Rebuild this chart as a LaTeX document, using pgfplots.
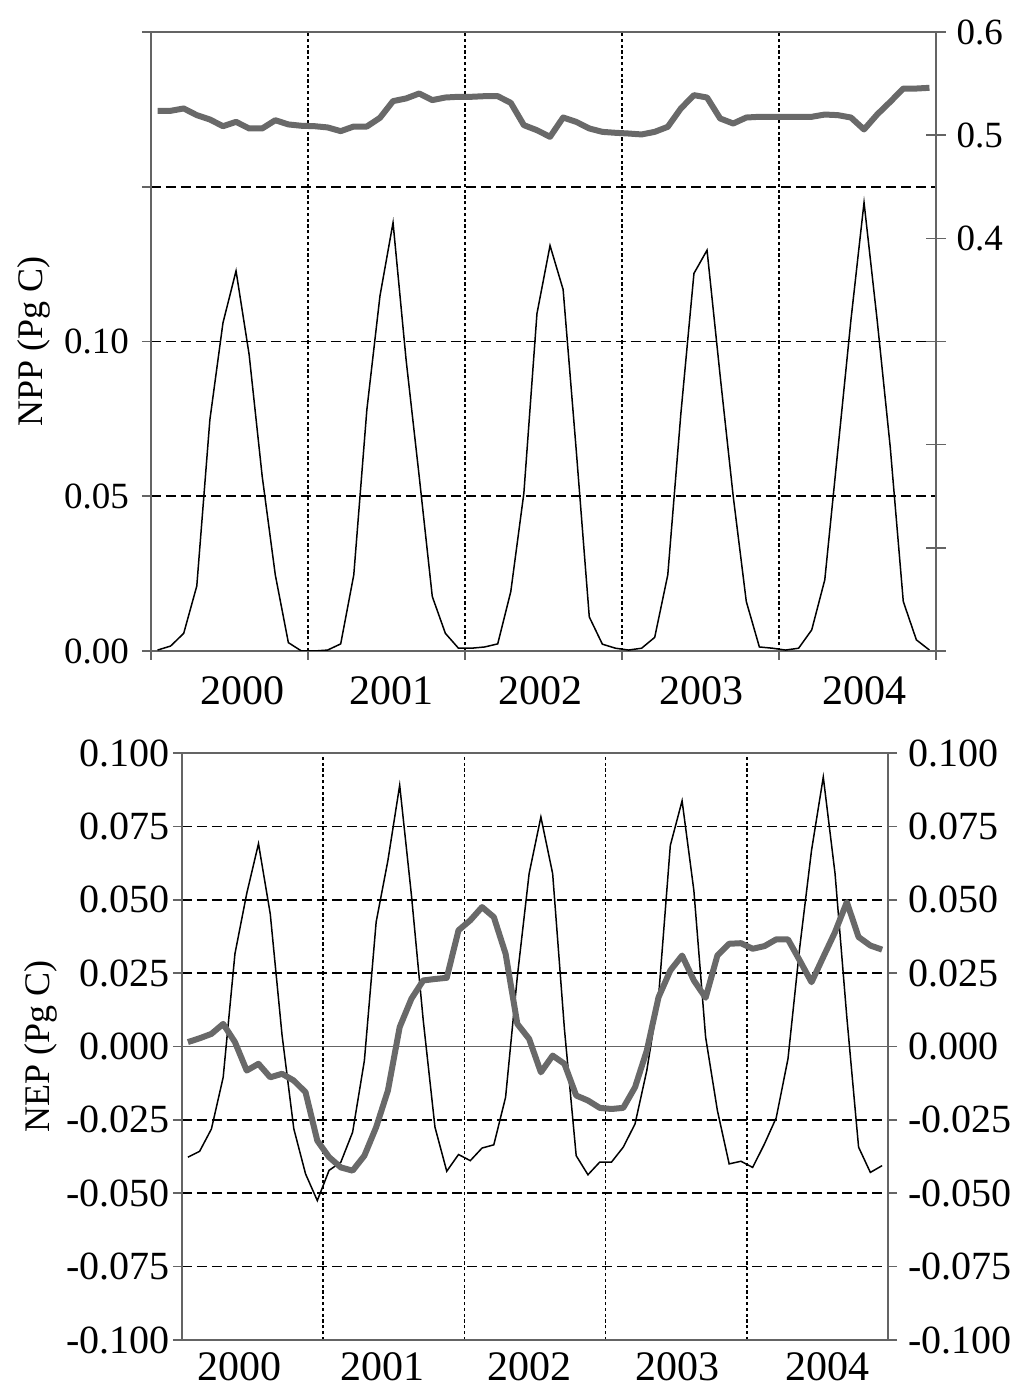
\documentclass[border=0pt]{standalone}
\usepackage{fontspec}
\setmainfont{Liberation Serif}
\usepackage{pgfplots}
\usepackage{pgfplotstable}
\pgfplotsset{compat=1.18}

\definecolor{avggray}{RGB}{105,105,105}
\definecolor{framegray}{RGB}{100,100,100}

% monthly NPP (left axis) and its running mean (right axis)
\pgfplotstableread{
x thin thick
0.5 0.0003 0.5236
1.5 0.0016 0.5236
2.5 0.0057 0.5259
3.5 0.0210 0.5194
4.5 0.0747 0.5152
5.5 0.1060 0.5087
6.5 0.1228 0.5129
7.5 0.0958 0.5065
8.5 0.0564 0.5065
9.5 0.0246 0.5145
10.5 0.0027 0.5104
11.5 0.0000 0.5091
12.5 0.0000 0.5087
13.5 0.0003 0.5075
14.5 0.0023 0.5039
15.5 0.0246 0.5084
16.5 0.0780 0.5084
17.5 0.1147 0.5168
18.5 0.1384 0.5330
19.5 0.0940 0.5356
20.5 0.0564 0.5404
21.5 0.0176 0.5340
22.5 0.0057 0.5365
23.5 0.0009 0.5372
24.5 0.0009 0.5372
25.5 0.0013 0.5378
26.5 0.0023 0.5378
27.5 0.0192 0.5313
28.5 0.0510 0.5097
29.5 0.1090 0.5048
30.5 0.1310 0.4984
31.5 0.1168 0.5171
32.5 0.0650 0.5129
33.5 0.0110 0.5065
34.5 0.0022 0.5032
35.5 0.0009 0.5023
36.5 0.0003 0.5016
37.5 0.0009 0.5007
38.5 0.0044 0.5032
39.5 0.0246 0.5081
40.5 0.0767 0.5259
41.5 0.1220 0.5388
42.5 0.1295 0.5365
43.5 0.0890 0.5162
44.5 0.0500 0.5113
45.5 0.0160 0.5171
46.5 0.0013 0.5178
47.5 0.0009 0.5178
48.5 0.0003 0.5178
49.5 0.0009 0.5178
50.5 0.0068 0.5178
51.5 0.0230 0.5200
52.5 0.0650 0.5194
53.5 0.1070 0.5171
54.5 0.1449 0.5055
55.5 0.1070 0.5200
56.5 0.0660 0.5323
57.5 0.0160 0.5452
58.5 0.0036 0.5452
59.5 0.0003 0.5459
}\npptab

% monthly NEP and its running mean (same scale)
\pgfplotstableread{
x thin thick
0.5 -0.0377 0.0015
1.5 -0.0357 0.0028
2.5 -0.0281 0.0043
3.5 -0.0105 0.0077
4.5 0.0316 0.0015
5.5 0.0521 -0.0082
6.5 0.0691 -0.0059
7.5 0.0452 -0.0105
8.5 0.0040 -0.0093
9.5 -0.0280 -0.0116
10.5 -0.0434 -0.0156
11.5 -0.0525 -0.0321
12.5 -0.0422 -0.0377
13.5 -0.0394 -0.0412
14.5 -0.0292 -0.0423
15.5 -0.0048 -0.0372
16.5 0.0424 -0.0275
17.5 0.0634 -0.0150
18.5 0.0890 0.0066
19.5 0.0515 0.0163
20.5 0.0090 0.0225
21.5 -0.0275 0.0230
22.5 -0.0425 0.0234
23.5 -0.0368 0.0396
24.5 -0.0389 0.0430
25.5 -0.0346 0.0475
26.5 -0.0335 0.0441
27.5 -0.0173 0.0316
28.5 0.0239 0.0077
29.5 0.0589 0.0026
30.5 0.0782 -0.0088
31.5 0.0589 -0.0031
32.5 0.0060 -0.0059
33.5 -0.0372 -0.0167
34.5 -0.0437 -0.0184
35.5 -0.0394 -0.0209
36.5 -0.0394 -0.0213
37.5 -0.0343 -0.0209
38.5 -0.0264 -0.0139
39.5 -0.0082 -0.0014
40.5 0.0168 0.0168
41.5 0.0685 0.0259
42.5 0.0837 0.0310
43.5 0.0532 0.0225
44.5 0.0032 0.0166
45.5 -0.0218 0.0310
46.5 -0.0400 0.0350
47.5 -0.0391 0.0352
48.5 -0.0412 0.0333
49.5 -0.0332 0.0342
50.5 -0.0243 0.0365
51.5 -0.0042 0.0365
52.5 0.0338 0.0293
53.5 0.0668 0.0219
54.5 0.0918 0.0305
55.5 0.0589 0.0390
56.5 0.0100 0.0492
57.5 -0.0343 0.0373
58.5 -0.0429 0.0344
59.5 -0.0406 0.0330
}\neptab

\pgfplotsset{
  panel/.style={
    scale only axis,
    xmin=0, xmax=60,
    axis line style={draw=framegray, line width=0.9pt},
    tick style={draw=framegray, line width=0.8pt},
    tick align=outside,
    major tick length=4.5pt,
    grid style={black, line width=0.8pt, dash pattern=on 5pt off 2.5pt},
    x grid style={black, line width=0.75pt, dash pattern=on 1.6pt off 1.3pt},
  },
  thinline/.style={black, line width=0.75pt, no markers},
  thickline/.style={avggray, line width=3pt, no markers, line join=round},
}

\begin{document}
\begin{tikzpicture}
\useasboundingbox (0,0) rectangle (505pt,694pt);

% ---- top panel, left scale (NPP)
\begin{axis}[panel,
  at={(75.5pt,368.5pt)}, anchor=south west,
  width=392.5pt, height=309.5pt,
  ymin=0, ymax=0.2,
  xtick={0,12,24,36,48,60}, xticklabels={}, xtick pos=bottom,
  xmajorgrids,
  extra x ticks={7,18.4,29.8,42.1,54.5},
  extra x tick labels={2000,2001,2002,2003,2004},
  extra x tick style={grid=none, major tick length=0pt,
    tick label style={font=\fontsize{21}{24}\selectfont, inner sep=0pt, yshift=-12.5pt}},
  ytick={0.05,0.1,0.15,0.2}, yticklabels={0.05,0.10,,}, ytick pos=left,
  ymajorgrids,
  extra y ticks={0}, extra y tick labels={0.00},
  extra y tick style={grid=none},
  yticklabel style={font=\fontsize{18.5}{20}\selectfont, xshift=-3pt},
  ylabel={NPP (Pg C)},
  ylabel style={font=\fontsize{18}{20}\selectfont, yshift=-9pt},
]
\addplot[thinline] table[x=x, y=thin] {\npptab};
\end{axis}

% ---- top panel, right scale (mean)
\begin{axis}[panel,
  at={(75.5pt,368.5pt)}, anchor=south west,
  width=392.5pt, height=309.5pt,
  ymin=0, ymax=0.6,
  axis x line=none, axis y line*=right,
  tick align=center, major tick length=9.5pt,
  ytick={0,0.1,0.2,0.3,0.4,0.5,0.6},
  yticklabels={,,,,0.4,0.5,0.6},
  yticklabel style={font=\fontsize{18.5}{20}\selectfont, xshift=2pt},
]
\addplot[thickline] table[x=x, y=thick] {\npptab};
\end{axis}

% ---- bottom panel, left scale (NEP)
\begin{axis}[panel,
  at={(91pt,24pt)}, anchor=south west,
  width=353pt, height=293.5pt,
  ymin=-0.1, ymax=0.1,
  xtick={12,24,36,48}, xticklabels={}, xtick pos=bottom,
  x tick style={draw=none},
  xmajorgrids,
  extra x ticks={4.9,17.0,29.5,42.1,54.9},
  extra x tick labels={2000,2001,2002,2003,2004},
  extra x tick style={grid=none, major tick length=0pt,
    tick label style={font=\fontsize{21}{24}\selectfont, inner sep=0pt, yshift=-6pt}},
  ytick={-0.1,-0.075,-0.05,-0.025,0.025,0.05,0.075,0.1},
  yticklabels={-0.100,-0.075,-0.050,-0.025,0.025,0.050,0.075,0.100},
  ytick pos=left,
  ymajorgrids,
  extra y ticks={0}, extra y tick labels={0.000},
  extra y tick style={grid style={solid, framegray, line width=0.5pt}},
  yticklabel style={font=\fontsize{20}{22}\selectfont, xshift=2pt},
  ylabel={NEP (Pg C)},
  ylabel style={font=\fontsize{18}{20}\selectfont, yshift=-11pt},
]
\addplot[thinline] table[x=x, y=thin] {\neptab};
\addplot[thickline] table[x=x, y=thick] {\neptab};
\end{axis}

% ---- bottom panel, right labels
\begin{axis}[panel,
  at={(91pt,24pt)}, anchor=south west,
  width=353pt, height=293.5pt,
  ymin=-0.1, ymax=0.1,
  axis x line=none, axis y line*=right,
  ytick={-0.1,-0.075,-0.05,-0.025,0,0.025,0.05,0.075,0.1},
  yticklabels={-0.100,-0.075,-0.050,-0.025,0.000,0.025,0.050,0.075,0.100},
  yticklabel style={font=\fontsize{20}{22}\selectfont, xshift=2pt},
]
\end{axis}
\end{tikzpicture}
\end{document}
